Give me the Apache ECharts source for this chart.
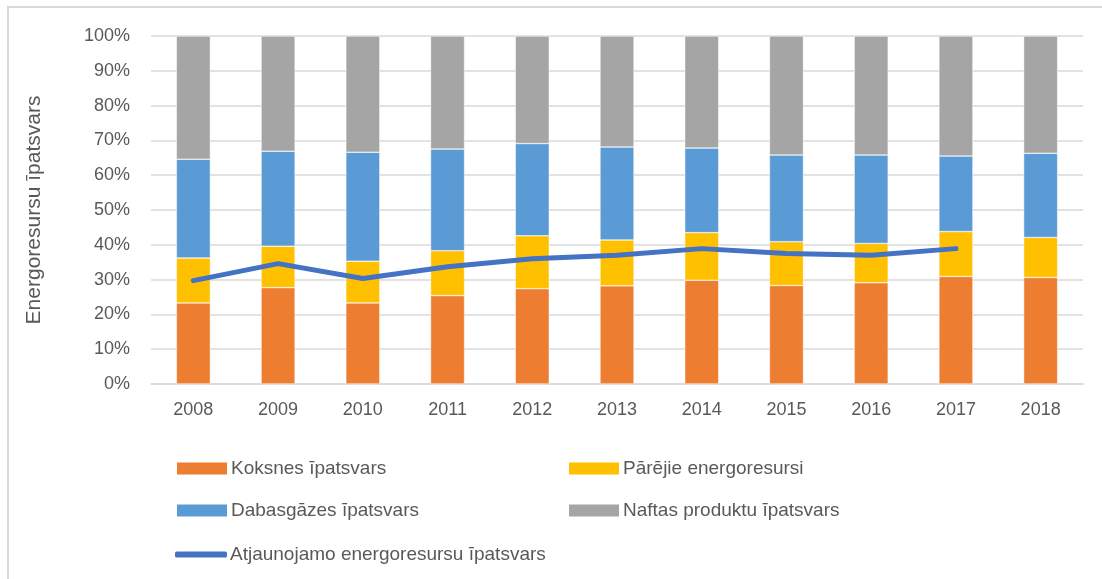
<!DOCTYPE html>
<html>
<head>
<meta charset="utf-8">
<script src="https://cdn.jsdelivr.net/npm/echarts@6/dist/echarts.min.js"></script>
<style>
  html, body { margin: 0; padding: 0; background: #fff; }
  #main { width: 1102px; height: 579px; }
  #frame { position: absolute; left: 7px; top: 6px; right: 0; bottom: 0;
    border-top: 2px solid #d9d9d9; border-left: 2px solid #d9d9d9; pointer-events: none; }
</style>
</head>
<body>
<div id="main"></div>
<div id="frame"></div>
<script>
// gadi
const years = ['2008', '2009', '2010', '2011', '2012', '2013', '2014', '2015', '2016', '2017', '2018'];
// īpatsvari, %
const koksnes = [23.3, 27.7, 23.3, 25.4, 27.4, 28.2, 29.8, 28.3, 29.1, 30.9, 30.6];
const parejie = [12.9, 11.9, 12.0, 12.9, 15.2, 13.2, 13.7, 12.6, 11.3, 12.9, 11.5];
const dabasgazes = [28.4, 27.3, 31.3, 29.2, 26.5, 26.7, 24.3, 24.9, 25.4, 21.7, 24.2];
const naftas = [35.4, 33.1, 33.4, 32.5, 30.9, 31.9, 32.2, 34.2, 34.2, 34.5, 33.7];
const atjaunojamo = [29.7, 34.6, 30.3, 33.7, 36.0, 37.0, 38.9, 37.5, 37.0, 38.9, null];

const names = ['Koksnes īpatsvars', 'Pārējie energoresursi', 'Dabasgāzes īpatsvars',
  'Naftas produktu īpatsvars', 'Atjaunojamo energoresursu īpatsvars'];
const colors = ['#ED7D31', '#FFC000', '#5B9BD5', '#A5A5A5', '#4472C4'];
const font = '"Liberation Sans Narrow", "Arial Narrow", "Liberation Sans", sans-serif';

const chart = echarts.init(document.getElementById('main'));

function bar(name, data, color) {
  return {
    name: name, type: 'bar', stack: 'all', data: data, barWidth: 34,
    itemStyle: { color: color, borderColor: '#fff', borderWidth: 0.5 },
    emphasis: { disabled: true }
  };
}

function legendAt(name, left, top, line) {
  return {
    data: [name], left: left, top: top, itemWidth: 52, itemHeight: line ? 6 : 14, itemGap: 0,
    icon: line ? 'roundRect' : 'rect',
    textStyle: { fontFamily: font, fontSize: 19, color: '#595959', padding: [0, 0, 0, -2] },
    selectedMode: false
  };
}

chart.setOption({
  animation: false,
  color: colors,
  grid: { left: 151, right: 19, top: 36, bottom: 195, containLabel: false },
  legend: [
    legendAt(names[0], 170, 454),
    legendAt(names[1], 562, 454),
    legendAt(names[2], 170, 496),
    legendAt(names[3], 562, 496),
    legendAt(names[4], 170, 540, true)
  ],
  xAxis: {
    type: 'category', data: years,
    axisTick: { show: false },
    axisLine: { lineStyle: { color: '#d9d9d9', width: 1.5 } },
    axisLabel: { fontFamily: font, fontSize: 18, color: '#595959', margin: 17 }
  },
  yAxis: {
    type: 'value', min: 0, max: 100, interval: 10,
    name: 'Energoresursu īpatsvars', nameLocation: 'middle', nameGap: 106,
    nameTextStyle: { fontFamily: font, fontSize: 21, color: '#595959' },
    axisLabel: { formatter: '{value}%', fontFamily: font, fontSize: 18, color: '#595959', margin: 21 },
    splitLine: { lineStyle: { color: '#d9d9d9', width: 1.5 } }
  },
  series: [
    bar(names[0], koksnes, colors[0]),
    bar(names[1], parejie, colors[1]),
    bar(names[2], dabasgazes, colors[2]),
    bar(names[3], naftas, colors[3]),
    {
      name: names[4], type: 'line', data: atjaunojamo, symbol: 'none',
      lineStyle: { color: colors[4], width: 5, cap: 'round', join: 'round' },
      itemStyle: { color: colors[4] },
      emphasis: { disabled: true }
    }
  ]
});
</script>
</body>
</html>
